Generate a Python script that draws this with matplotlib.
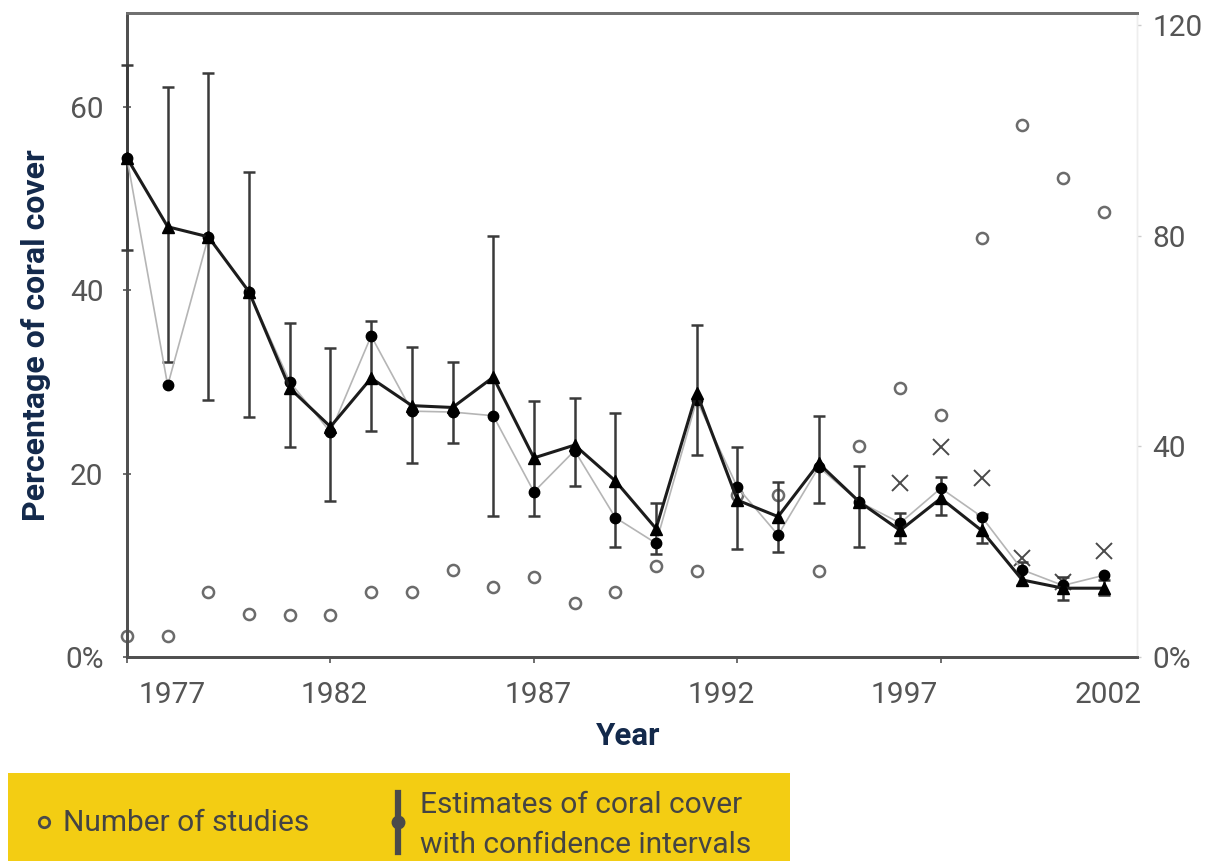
import matplotlib.pyplot as plt
from matplotlib.lines import Line2D
from matplotlib.patches import Rectangle

plt.rcParams['font.family'] = ['Roboto', 'DejaVu Sans']

years = list(range(1977, 2002))

# annual mean coral cover (%), filled circles, thin grey line
mean_cover = [54.4, 29.6, 45.8, 39.8, 30.0, 24.5, 35.0, 26.8, 26.7, 26.3,
              18.0, 22.5, 15.2, 12.4, 28.0, 18.5, 13.3, 20.7, 16.9, 14.6,
              18.4, 15.3, 9.5, 7.8, 8.9]
# weighted mean coral cover (%), triangles, heavy line
weighted_cover = [54.4, 46.9, 45.8, 39.8, 29.3, 25.1, 30.4, 27.4, 27.2, 30.5,
                  21.7, 23.1, 19.2, 14.0, 28.8, 17.1, 15.3, 21.1, 16.9, 13.8,
                  17.3, 13.8, 8.4, 7.5, 7.5]
ci_low = [44.4, 32.2, 28.0, 26.2, 22.9, 17.0, 24.6, 21.1, 23.3, 15.4,
          15.4, 18.6, 12.0, 11.2, 22.0, 11.8, 11.4, 16.8, 12.0, 12.4,
          15.5, 12.4, 7.8, 6.2, 6.8]
ci_high = [64.5, 62.1, 63.7, 52.9, 36.4, 33.7, 36.6, 33.8, 32.2, 45.9,
           27.9, 28.2, 26.6, 16.8, 36.2, 22.9, 19.1, 26.3, 20.8, 15.7,
           19.6, 15.6, 10.4, 8.7, 8.4]

# number of studies per year (right axis)
n_studies = [4, 4, 12.3, 8.2, 8, 8, 12.3, 12.3, 16.5, 13.3,
             15.2, 10.2, 12.3, 17.3, 16.3, 30.7, 30.7, 16.3, 40, 51,
             46, 79.5, 101, 91, 84.6]

# extra estimates shown as crosses, late years only
cross_years = [1996, 1997, 1998, 1999, 2000, 2001]
cross_cover = [19.0, 22.9, 19.5, 10.8, 8.2, 11.6]

left_ticks = [0, 20, 40, 60]
left_labels = ['0%', '20', '40', '60']
right_ticks = [0, 40, 80, 120]
right_labels = ['0%', '40', '80', '120']
year_ticks = [1977, 1982, 1987, 1992, 1997]
year_labels = ['1977', '1982', '1987', '1992', '1997', '2002']
year_label_pos = [1978.1, 1982.1, 1987.1, 1991.6, 1996.1, 2001.1]

NAVY = '#13294b'
TICK_GREY = '#555555'

fig = plt.figure(figsize=(12.05, 8.61), dpi=100)
ax = fig.add_axes([127 / 1205, 1 - 657 / 861, 1010 / 1205, 644 / 861])
ax2 = ax.twinx()

ax2.plot(years, n_studies, linestyle='none', marker='o', markersize=8,
         markerfacecolor='white', markeredgecolor='#6b6b6b',
         markeredgewidth=1.8, clip_on=False, zorder=2)

ax.plot(cross_years, cross_cover, linestyle='none', marker='x',
        markersize=11, markeredgewidth=1.4, color='#4a4a4a', zorder=3)
ax.errorbar(years, weighted_cover,
            yerr=[[w - l for w, l in zip(weighted_cover, ci_low)],
                  [h - w for w, h in zip(weighted_cover, ci_high)]],
            fmt='none', ecolor='#3a3a3a', elinewidth=1.8, capsize=4.5,
            capthick=1.8, clip_on=False, zorder=4)
ax.plot(years, mean_cover, color='#b5b5b5', linewidth=1.2, marker='o',
        markersize=7.5, markerfacecolor='black', markeredgecolor='black',
        clip_on=False, zorder=5)
ax.plot(years, weighted_cover, color='#1c1c1c', linewidth=2.2, marker='^',
        markersize=8.5, markerfacecolor='black', markeredgecolor='black',
        clip_on=False, zorder=6)

# put the left axes in front of the twin so its marks sit on top
ax.set_zorder(ax2.get_zorder() + 1)
ax.patch.set_visible(False)

ax.set_xlim(1977, 2001.82)
ax.set_ylim(0, 70.2)
ax2.set_ylim(0, 122.3)

ax.set_yticks(left_ticks)
ax.set_yticklabels(left_labels)
ax.tick_params(axis='y', direction='inout', length=6, width=1.2,
               color='#555555', labelsize=21.5, labelcolor=TICK_GREY, pad=14)

ax.set_xticks(year_ticks)
ax.set_xticklabels([''] * len(year_ticks))
ax.tick_params(axis='x', which='major', direction='out', length=4,
               width=1.2, color='#555555')
ax.set_xticks(year_label_pos, minor=True)
ax.set_xticklabels(year_labels, minor=True)
ax.tick_params(axis='x', which='minor', length=0, labelsize=21.5,
               labelcolor=TICK_GREY, pad=17)

ax2.set_yticks(right_ticks)
ax2.set_yticklabels(right_labels)
ax2.tick_params(axis='y', direction='out', length=3, width=1,
                color='#cccccc', labelsize=21.5, labelcolor=TICK_GREY, pad=8)

for a in (ax, ax2):
    a.spines['left'].set_color('#505050')
    a.spines['left'].set_linewidth(2)
    a.spines['bottom'].set_color('#505050')
    a.spines['bottom'].set_linewidth(2)
    a.spines['top'].set_color('#707070')
    a.spines['top'].set_linewidth(2)
    a.spines['right'].set_color('#eeeeee')
    a.spines['right'].set_linewidth(1)

ax.set_ylabel('Percentage of coral cover', fontsize=23, fontweight='bold',
              color=NAVY)
ax.yaxis.set_label_coords(-0.075, 0.5)
ax.set_xlabel('Year', fontsize=22.5, fontweight='bold', color=NAVY)
ax.xaxis.set_label_coords(0.496, -0.100)

# yellow key box under the chart
fig.patches.append(Rectangle((8 / 1205, 0), 782 / 1205, 88 / 861,
                             transform=fig.transFigure, facecolor='#f3cd13',
                             edgecolor='none', zorder=0))
fig.add_artist(Line2D([44 / 1205], [1 - 822 / 861], marker='o',
                      markersize=7.5, markerfacecolor='none',
                      markeredgecolor='#4a4a4a', markeredgewidth=2,
                      transform=fig.transFigure))
fig.text(63 / 1205, 1 - 823 / 861, 'Number of studies', fontsize=21.5,
         color='#444444', va='center', ha='left')
fig.add_artist(Line2D([398 / 1205, 398 / 1205],
                      [1 - 793 / 861, 1 - 852 / 861], color='#4a4a4a',
                      linewidth=4.5, transform=fig.transFigure))
fig.add_artist(Line2D([398 / 1205], [1 - 822 / 861], marker='o',
                      markersize=9, color='#4a4a4a',
                      transform=fig.transFigure))
fig.text(420 / 1205, 1 - 825 / 861,
         'Estimates of coral cover\nwith confidence intervals',
         fontsize=21.5, color='#444444', va='center', ha='left',
         linespacing=1.55)

fig.savefig('out.png', dpi=100)
